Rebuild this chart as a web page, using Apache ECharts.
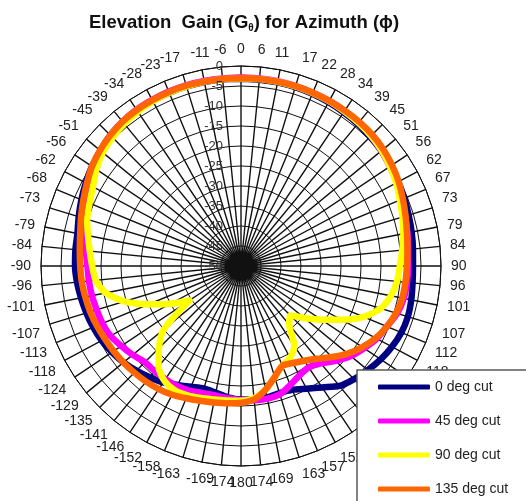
<!DOCTYPE html>
<html>
<head>
<meta charset="utf-8">
<script src="https://cdn.jsdelivr.net/npm/echarts@6/dist/echarts.min.js"></script>
<style>html,body{margin:0;padding:0;background:#fff}#c{width:526px;height:501px}</style>
</head>
<body>
<div id="c"></div>
<script>
// Angle positions (degrees clockwise from top) of the 64 spokes
const angles = [0,5.625,11.25,16.875,22.5,28.125,33.75,39.375,45,50.625,56.25,61.875,67.5,73.125,78.75,84.375,
  90,95.625,101.25,106.875,112.5,118.125,123.75,129.375,135,140.625,146.25,151.875,157.5,163.125,168.75,174.375,
  180,185.625,191.25,196.875,202.5,208.125,213.75,219.375,225,230.625,236.25,241.875,247.5,253.125,258.75,264.375,
  270,275.625,281.25,286.875,292.5,298.125,303.75,309.375,315,320.625,326.25,331.875,337.5,343.125,348.75,354.375];
// Tick labels shown around the rim
const angleLabels = ['0','6','11','17','22','28','34','39','45','51','56','62','67','73','79','84',
  '90','96','101','107','112','118','124','129','135','141','146','152','157','163','169','174',
  '180','-174','-169','-163','-158','-152','-146','-141','-135','-129','-124','-118','-113','-107','-101','-96',
  '-90','-84','-79','-73','-68','-62','-56','-51','-45','-39','-34','-28','-23','-17','-11','-6'];
const radiusTicks = [-50,-45,-40,-35,-30,-25,-20,-15,-10,-5,0];

const seriesNames = ['0 deg cut','45 deg cut','90 deg cut','135 deg cut'];
// Gain (dB) at each of the 64 angles
const cut0 = [-3.2,-3.2,-3.2,-3.3,-3.4,-3.6,-3.8,-4,-4.3,-4.6,-5,-5.4,-5.8,-6.2,-6.5,-6.8,
  -7,-6.9,-6.6,-6.4,-6.6,-7.2,-8,-9,-10,-11.2,-13.5,-15.2,-16.5,-16.8,-16.5,-16.4,
  -16.6,-17,-17.7,-18,-17.3,-16.3,-15,-14,-13,-12,-11.2,-10.5,-10,-9.6,-9.2,-8.8,
  -8.5,-8.4,-8.3,-7.6,-6.8,-6,-5.2,-4.5,-3.8,-3.5,-3.3,-3.2,-3.1,-3.1,-3.1,-3.1];
const cut45 = [-2.9,-2.9,-2.9,-3,-3.1,-3.2,-3.4,-3.6,-4,-4.6,-5.2,-5.8,-6.5,-7.1,-7.6,-8,
  -8.2,-8.3,-8.5,-9.2,-10.5,-11.5,-13,-14.5,-16.5,-18.5,-19.5,-19,-17.8,-16.5,-16.2,-16.3,
  -16.5,-16.8,-17,-16.8,-16.3,-16,-16,-16,-16,-15,-14,-13,-12.5,-12.3,-12,-11.8,
  -11.6,-11,-10,-9,-7.8,-6.7,-5.5,-4.6,-3.8,-3.3,-3,-2.9,-2.8,-2.8,-2.85,-2.9];
const cut90 = [-3.05,-3.05,-3.05,-3.1,-3.2,-3.3,-3.5,-3.7,-4,-4.5,-5.2,-6,-7,-7.8,-8.6,-9.5,
  -10.3,-10.8,-11.8,-13.5,-16.8,-21.5,-25.8,-29.5,-32.5,-31,-26,-24,-23,-21,-18.5,-16.8,
  -16.3,-16.2,-16,-15.5,-15,-14.8,-15.5,-17.5,-21,-25,-34.5,-30,-25,-19.5,-15.5,-13.5,
  -12.8,-12,-11,-9.8,-9,-8,-6.5,-5.3,-4.6,-4,-3.6,-3.3,-3.1,-3.05,-3.05,-3.05];
const cut135 = [-3,-3,-3,-3,-3.1,-3.2,-3.3,-3.4,-3.6,-4,-4.6,-5.3,-6.2,-7,-7.7,-8.2,
  -8.5,-8.7,-8.9,-9.5,-10.5,-11.8,-13.5,-15.5,-17.8,-20,-21.5,-22.5,-23,-21,-18.5,-16.5,
  -15.8,-15.5,-15.2,-14.8,-14.2,-13.5,-13,-12.6,-12.3,-12,-11.7,-11.4,-11,-10.6,-10.3,-10,
  -9.8,-9.5,-9,-8.2,-7.3,-6.3,-5.2,-4.4,-3.8,-3.3,-3.1,-3,-2.9,-2.9,-3,-3];
const colors = ['#000080','#FF00FF','#FFFF00','#FF6600'];

const FONT = "'Liberation Sans', Arial, sans-serif";
const CENTER = [241, 266];
const RADIUS = 200;

function toData(vals){
  const d = vals.map((v,i)=>[v, angles[i]]);
  d.push([vals[0], 360]);
  return d;
}

const chart = echarts.init(document.getElementById('c'), null, {renderer:'canvas'});
chart.setOption({
  animation: false,
  backgroundColor: '#fff',
  title: {
    text: '{a|Elevation  Gain (G}{s|θ}{a|) for Azimuth (ϕ)}',
    left: 84, top: 6,
    textStyle: {
      rich: {
        a: {fontFamily: FONT, fontSize: 18.5, fontWeight: 'bold', color: '#111', lineHeight: 24},
        s: {fontFamily: FONT, fontSize: 10, fontWeight: 'bold', color: '#111', lineHeight: 24, padding: [10,0,0,0]}
      }
    }
  },
  graphic: [{
    type: 'rect', z: 50,
    shape: {x: 357, y: 370, width: 200, height: 150},
    style: {fill: '#fff', stroke: '#595959', lineWidth: 1.5}
  }],
  polar: [
    {center: CENTER, radius: RADIUS},
    {center: CENTER, radius: RADIUS}
  ],
  angleAxis: [{
    polarIndex: 0,
    type: 'value', min: 0, max: 360, interval: 5.625,
    startAngle: 90, clockwise: true,
    axisLine: {show: true, lineStyle: {color: '#111', width: 1}},
    axisTick: {show: false},
    splitLine: {show: true, lineStyle: {color: '#111', width: 1.4}},
    axisLabel: {
      margin: 10, fontFamily: FONT, fontSize: 14, color: '#222',
      formatter: function(v){ if (v >= 359.9) return ''; return angleLabels[Math.round(v/5.625) % 64]; }
    }
  },{
    polarIndex: 1,
    type: 'value', min: 0, max: 360, interval: 5.625,
    startAngle: 90, clockwise: true,
    axisLine: {show: false}, axisTick: {show: false}, splitLine: {show: false}, axisLabel: {show: false}
  }],
  radiusAxis: [{
    polarIndex: 0,
    type: 'value', min: -50, max: 0, interval: 5,
    axisLine: {show: false}, axisTick: {show: false},
    axisLabel: {show: false},
    splitLine: {show: true, lineStyle: {color: '#111', width: 1}}
  },{
    polarIndex: 1,
    type: 'value', min: -50, max: 0, interval: 5,
    z: 20,
    axisLine: {show: false}, axisTick: {show: false}, splitLine: {show: false},
    axisLabel: {
      margin: 18, fontFamily: FONT, fontSize: 13, color: '#333',
      formatter: function(v){ return radiusTicks.indexOf(v) >= 0 ? String(v) : ''; }
    }
  }],
  legend: {
    orient: 'vertical',
    left: 378, top: 379,
    z: 100,
    padding: 0,
    itemWidth: 52, itemHeight: 5, itemGap: 18,
    icon: 'roundRect',
    selectedMode: false,
    textStyle: {fontFamily: FONT, fontSize: 14, color: '#222', lineHeight: 16},
    data: seriesNames
  },
  series: [cut0, cut45, cut90, cut135].map((vals, i) => ({
    name: seriesNames[i],
    type: 'line',
    coordinateSystem: 'polar',
    polarIndex: 0,
    data: toData(vals),
    showSymbol: false,
    smooth: 0.25,
    color: colors[i],
    itemStyle: {color: colors[i]},
    lineStyle: {color: colors[i], width: 6.5, cap: 'round', join: 'round'},
    z: 3 + i
  }))
});
</script>
</body>
</html>
